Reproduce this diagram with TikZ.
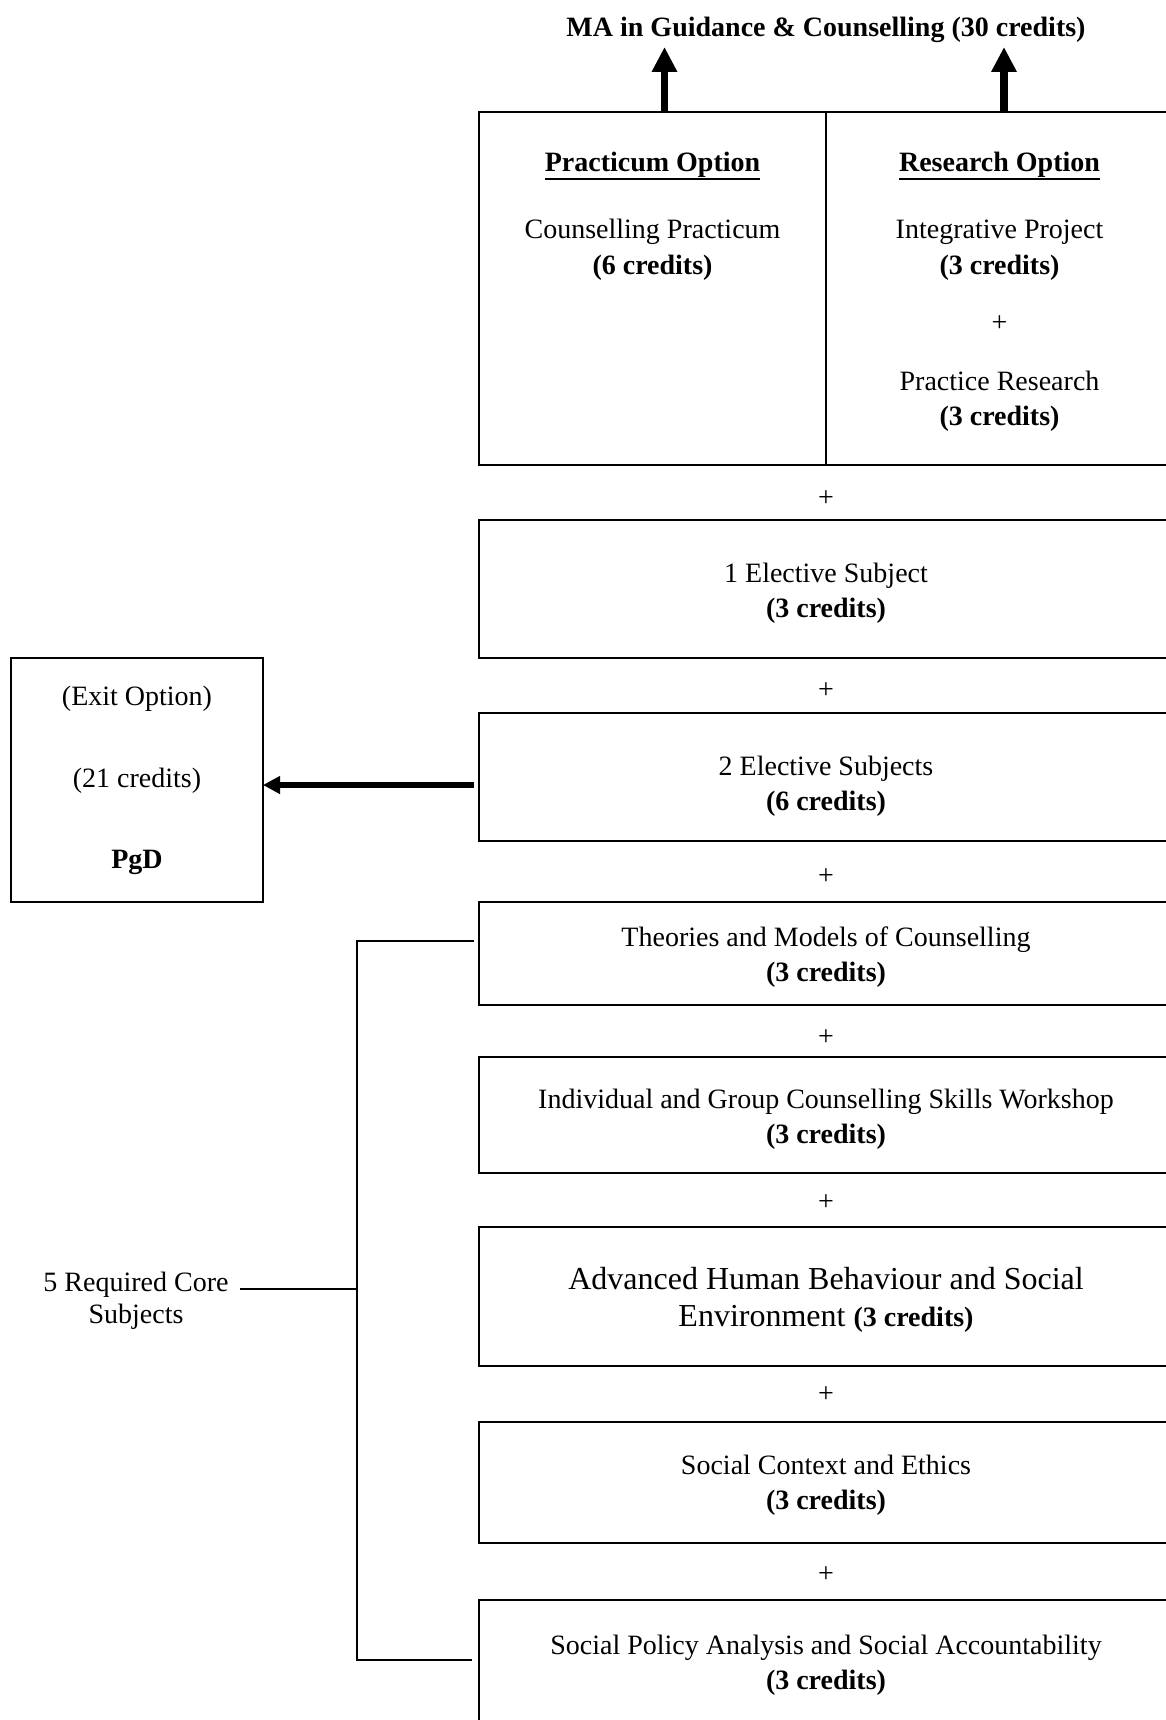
\documentclass[tikz,border=0pt]{standalone}
\usepackage{fontspec}
\setmainfont{Liberation Serif}
\usetikzlibrary{arrows.meta}
\newcommand\fs{\fontsize{28}{35}\selectfont}
\newcommand\myul[1]{\setbox0\hbox{#1}\rlap{\rule[-8.5pt]{\wd0}{2pt}}\box0}
\begin{document}
\begin{tikzpicture}[x=1pt,y=-1pt,
  box/.style={draw, line width=2pt, inner sep=0pt, outer sep=0pt},
  txt/.style={inner sep=0pt, outer sep=0pt, align=center, font=\fs},
  uparrow/.style={line width=7.5pt, -{Triangle[length=25pt,width=24pt]}},
  exitarrow/.style={line width=6.5pt, -{Triangle[length=17pt,width=17pt]}},
  thinline/.style={line width=1.8pt}]
\useasboundingbox (0,0) rectangle (1166,1720);

% title
\node[txt, anchor=base, font=\fs\bfseries] (title) at (826,37) {MA in Guidance \& Counselling (30 credits)};

% top options box
\node[box, minimum width=347pt, minimum height=353pt] (pract) at (652.5,288.5) {};
\node[box, minimum width=347pt, minimum height=353pt] (res) at (999.5,288.5) {};
\node[txt, anchor=base] (ptitle) at (652.5,172) {\bfseries\myul{Practicum Option}};
\node[txt, anchor=base] (p1) at (652.5,239) {Counselling Practicum};
\node[txt, anchor=base] (p2) at (652.5,274) {\bfseries(6 credits)};
\node[txt, anchor=base] (rtitle) at (999.5,172) {\bfseries\myul{Research Option}};
\node[txt, anchor=base] (r1) at (999.5,239) {Integrative Project};
\node[txt, anchor=base] (r2) at (999.5,274) {\bfseries(3 credits)};
\node[txt] (rplus) at (999.5,324) {+};
\node[txt, anchor=base] (r3) at (999.5,390) {Practice Research};
\node[txt, anchor=base] (r4) at (999.5,425) {\bfseries(3 credits)};

\coordinate (tipL) at (664.5,47);
\coordinate (tipR) at (1004,47);
\draw[uparrow] ([yshift=-1pt]tipL |- pract.north) -- (tipL);
\draw[uparrow] ([yshift=-1pt]tipR |- res.north) -- (tipR);

\node[txt] (plus1) at (826,499) {+};

% elective boxes
\node[box, minimum width=694pt, minimum height=138pt] (elec1) at (826,589) {};
\node[txt] (te1) at (826,593) {1 Elective Subject\\\textbf{(3 credits)}};
\node[txt] (plus2) at (826,691) {+};
\node[box, minimum width=694pt, minimum height=128pt] (elec2) at (826,777) {};
\node[txt] (te2) at (826,786) {2 Elective Subjects\\\textbf{(6 credits)}};
\node[txt] (plus3) at (826,877) {+};

% core subjects
\node[box, minimum width=694pt, minimum height=103pt] (theo) at (826,953.5) {};
\node[txt] (tt) at (826,957) {Theories and Models of Counselling\\\textbf{(3 credits)}};
\node[txt] (plus4) at (826,1038) {+};
\node[box, minimum width=694pt, minimum height=116pt] (indiv) at (826,1115) {};
\node[txt] (ti) at (826,1119) {Individual and Group Counselling Skills Workshop\\\textbf{(3 credits)}};
\node[txt] (plus5) at (826,1203) {+};
\node[box, minimum width=694pt, minimum height=139pt] (adv) at (826,1296.5) {};
\node[txt, font=\fontsize{32}{37}\selectfont] (ta) at (826,1299.5) {Advanced Human Behaviour and Social\\Environment {\fontsize{28}{37}\selectfont\bfseries(3 credits)}};
\node[txt] (plus6) at (826,1395) {+};
\node[box, minimum width=694pt, minimum height=121pt] (ctx) at (826,1482.5) {};
\node[txt] (tc) at (826,1485) {Social Context and Ethics\\\textbf{(3 credits)}};
\node[txt] (plus7) at (826,1575) {+};
\node[box, minimum width=694pt, minimum height=124pt] (pol) at (826,1662) {};
\node[txt] (tp) at (826,1665) {Social Policy Analysis and Social Accountability\\\textbf{(3 credits)}};

% exit option
\node[box, minimum width=252pt, minimum height=244pt] (exit) at (137,780) {};
\node[txt, anchor=base] (ex1) at (137,705) {(Exit Option)};
\node[txt, anchor=base] (ex2) at (137,787) {(21 credits)};
\node[txt, anchor=base] (ex3) at (137,868) {\bfseries PgD};
\coordinate (exstart) at (474,785);
\draw[exitarrow] (exstart) -- (exstart -| exit.east);

% bracket
\node[txt, font=\fontsize{28}{32}\selectfont] (core) at (136,1300.4) {5 Required Core\\Subjects};
\coordinate (btop) at (357,941);
\coordinate (bbot) at (357,1660);
\coordinate (cmid) at (240,1289);
\draw[thinline] ([xshift=-5pt]theo.west |- btop) -- (btop) -- (bbot) -- ([xshift=-7pt]pol.west |- bbot);
\draw[thinline] (cmid) -- (cmid -| btop);
\end{tikzpicture}
\end{document}
